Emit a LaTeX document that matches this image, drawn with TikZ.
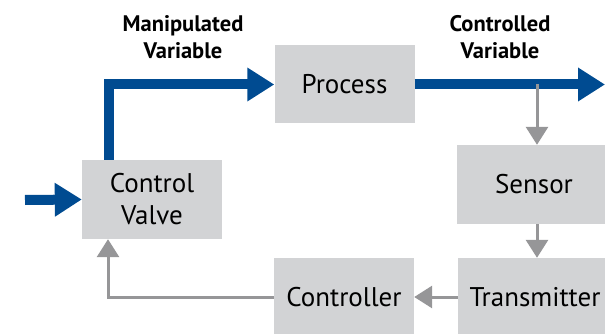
\documentclass[tikz,border=0pt]{standalone}
\usepackage{fontspec}
\setmainfont{PT Sans}
\usetikzlibrary{arrows.meta}
\definecolor{flowblue}{RGB}{0,75,145}
\definecolor{boxgray}{RGB}{210,211,213}
\definecolor{linegray}{RGB}{150,150,152}
\begin{document}
\begin{tikzpicture}[x=1pt,y=-1pt,line join=miter,
    box/.style={fill=boxgray,minimum width=140pt,minimum height=78pt,inner sep=0pt,align=center,font=\fontsize{27}{32}\selectfont},
    flow/.style={draw=flowblue,line width=10pt,-{Triangle[length=27pt,width=32pt]}},
    signal/.style={draw=linegray,line width=3pt,-{Triangle[length=18pt,width=22pt]}},
    varlabel/.style={align=center,font=\fontsize{22.5}{26.5}\selectfont\bfseries}]
    \useasboundingbox (0,0) rectangle (605,334);
    \clip (0,0) rectangle (605,334);

    \node[box] (process) at (344.5,84.5) {Process};
    \node[box,minimum height=79pt] (valve) at (152,199.5) {Control\\Valve};
    \node[box,minimum width=154pt,minimum height=79pt] (sensor) at (534,184.5) {Sensor};
    \node[box,minimum width=154pt] (transmitter) at (535,297) {Transmitter};
    \node[box] (controller) at (344,297) {Controller};

    \node[varlabel] (manip) at (183,37) {Manipulated\\Variable};
    \node[varlabel] (contr) at (500,37) {Controlled\\Variable};

    \coordinate (in) at (25,200);
    \coordinate (out) at (605,84.5);
    \coordinate (tap) at (537,84.5);

    % material flow
    \draw[flow] (in) -- (valve.west);
    \draw[flow] ([xshift=-43pt]valve.north) |- (process.west);
    \draw[flow] (process.east) -- (out);

    % measurement loop
    \draw[signal] (tap) -- (tap |- sensor.north);
    \draw[signal] (sensor.south -| tap) -- (transmitter.north -| tap);
    \draw[signal] (transmitter.west) -- (controller.east);
    \draw[signal] (controller.west) -| ([xshift=-44pt]valve.south);
\end{tikzpicture}
\end{document}
